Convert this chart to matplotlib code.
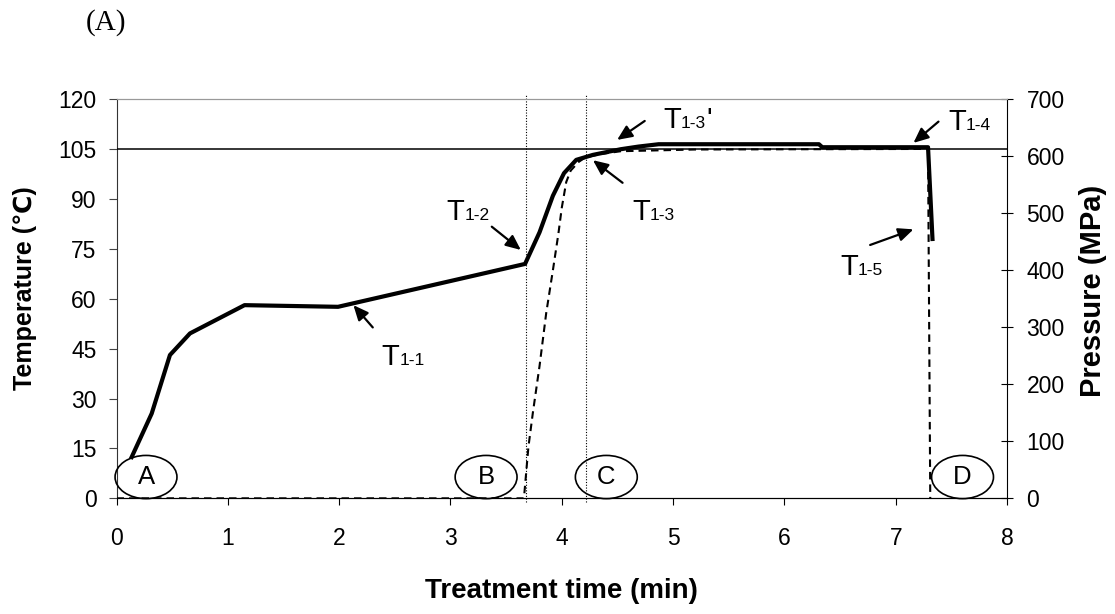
import matplotlib
matplotlib.use('Agg')
import matplotlib.pyplot as plt
from matplotlib.patches import Ellipse

plt.rcParams['font.family'] = ['Liberation Sans', 'DejaVu Sans']

# temperature profile (min, degC)
temp_time = [0.136, 0.316, 0.48, 0.66, 1.15, 1.99, 3.67, 3.80, 3.92, 4.02, 4.13,
             4.28, 4.53, 4.69, 4.87, 6.31, 6.34, 7.29, 7.33]
temp_vals = [12.4, 25.5, 43.1, 49.6, 58.1, 57.6, 70.5, 80.0, 91.0, 97.8, 101.8,
             103.3, 105.0, 105.8, 106.5, 106.5, 105.6, 105.6, 78.0]

# pressure profile (min, MPa)
pres_time = [0, 3.66, 3.70, 3.74, 3.80, 3.86, 3.92, 3.97, 4.00, 4.04, 4.08,
             4.15, 4.21, 4.35, 4.53, 5.20, 7.29, 7.31]
pres_vals = [0, 0, 90, 150, 232, 325, 400, 465, 510, 555, 575,
             590, 598, 604, 609, 612, 613, 0]

setpoint = 105
phase_times = [3.68, 4.22]

stage_labels = ['A', 'B', 'C', 'D']
stage_times = [0.265, 3.32, 4.40, 7.60]
stage_temp = 6.4

ann_labels = ['1-1', '1-2', "1-3'", '1-3', '1-4', '1-5']
ann_text = [(2.383, 40.1), (2.967, 83.7), (4.916, 111.3), (4.633, 83.7), (7.47, 110.8), (6.50, 67.2)]
ann_tail = [(2.302, 51.4), (3.371, 81.7), (4.745, 113.5), (4.546, 94.9), (7.384, 113.3), (6.77, 76.2)]
ann_head = [(2.128, 58.1), (3.632, 74.7), (4.497, 107.8), (4.280, 101.7), (7.159, 106.9), (7.159, 80.9)]


fig = plt.figure(figsize=(11.15, 6.14), dpi=100)
ax = fig.add_axes([0.1045, 0.1884, 0.7987, 0.6498])
ax2 = ax.twinx()

ax.plot(temp_time, temp_vals, color='black', lw=3, solid_joinstyle='round', zorder=4)
ax2.plot(pres_time, pres_vals, color='black', lw=1.5, linestyle=(0, (3.6, 2.4)))

ax.axhline(setpoint, color='black', lw=1.1, zorder=3)
for t in phase_times:
    ax.axvline(t, ymin=-0.01, ymax=1.01, color='black', lw=0.8,
               linestyle=(0, (1, 1.5)), clip_on=False)

for lab, t in zip(stage_labels, stage_times):
    e = Ellipse((t, stage_temp), width=0.556, height=13, fill=False,
                edgecolor='black', lw=1.2, clip_on=False, zorder=5)
    ax.add_patch(e)
    ax.text(t, stage_temp, lab, ha='center', va='center', fontsize=18.5, zorder=6)

for lab, txt, tail, head in zip(ann_labels, ann_text, ann_tail, ann_head):
    ax.annotate('', xy=head, xytext=tail,
                arrowprops=dict(arrowstyle='-|>,head_length=0.45,head_width=0.2',
                                mutation_scale=20, color='black', lw=1.6,
                                shrinkA=0, shrinkB=0))
    ax.text(txt[0], txt[1], 'T', fontsize=21, ha='left', va='baseline')
    sub = lab.rstrip("'")
    ax.annotate(sub, xy=txt, xytext=(12.5, 0), textcoords='offset points',
                fontsize=12.5, ha='left', va='baseline')
    if lab.endswith("'"):
        ax.annotate("'", xy=txt, xytext=(31, 0), textcoords='offset points',
                    fontsize=21, ha='left', va='baseline')

ax.set_xlim(0, 8)
ax.set_ylim(0, 120)
ax.set_yticks(range(0, 121, 15))
ax2.set_ylim(0, 700)
ax2.set_yticks(range(0, 701, 100))

ax.tick_params(axis='x', direction='out', length=5, pad=15.5, labelsize=16.5)
ax.tick_params(axis='y', direction='out', length=5.8, pad=8.5, labelsize=16.5, color='#444444')
ax2.tick_params(axis='y', direction='inout', length=8, pad=10, labelsize=16.5)

ax.spines['top'].set_color('#999999')
ax.spines['left'].set_color('#333333')
ax.spines['right'].set_visible(False)
ax2.spines['top'].set_color('#999999')
ax2.spines['left'].set_visible(False)

ax.set_xlabel('Treatment time (min)', fontsize=20, fontweight='bold', va='center')
ax.xaxis.set_label_coords(0.5, -0.233)
ax.set_ylabel('Temperature (\u2103)', fontsize=18, fontweight='bold', va='center', ha='center')
ax.yaxis.set_label_coords(-0.1027, 0.527)
ax2.set_ylabel('Pressure (MPa)', fontsize=21, fontweight='bold', va='center', ha='center')
ax2.yaxis.set_label_coords(1.0966, 0.519)

fig.text(0.095, 0.9625, '(A)', family='Liberation Serif', fontsize=21, ha='center', va='center')

fig.savefig('out.png', dpi=100)
